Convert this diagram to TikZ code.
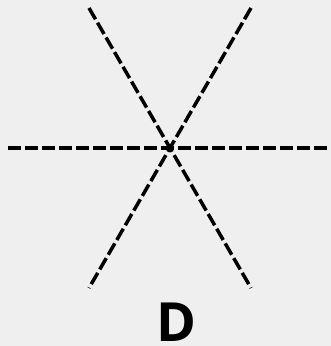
\documentclass[tikz,border=0pt]{standalone}
\usepackage{fontspec}
\setmainfont{Open Sans}
\usepackage{tikz}
\definecolor{bggrey}{HTML}{EFEFEF}
\tikzset{axisline/.style={line width=3.5pt, dash pattern=on 13pt off 4pt, black}}

\begin{document}
\begin{tikzpicture}[x=1pt,y=-1pt]
\fill[bggrey](0,0) rectangle (331,346);
\useasboundingbox (0,0) rectangle (331,346);
\coordinate (o) at (170,148);
\coordinate (hl) at (8,148);
\coordinate (hr) at (331,148);
\coordinate (tl) at (89,8);
\coordinate (br) at (251,288);
\coordinate (tr) at (251,8);
\coordinate (bl) at (89,288);
\draw[axisline](hl)--(hr);
\draw[axisline](tl)--(br);
\draw[axisline](tr)--(bl);
\node[font=\bfseries\fontsize{54}{60}\selectfont, anchor=base, inner sep=0pt] (lbl) at (176,341){D};
\end{tikzpicture}
\end{document}
